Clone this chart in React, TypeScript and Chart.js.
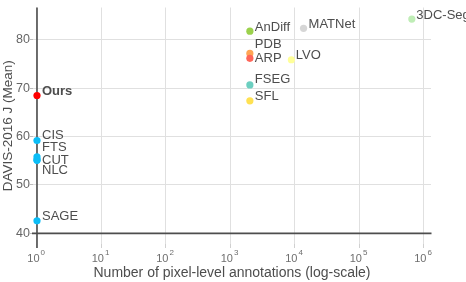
import React, { useEffect, useRef } from "react";
import { Chart, registerables } from "chart.js";

Chart.register(...registerables);

const methods = ["SAGE", "NLC", "CUT", "FTS", "CIS", "Ours", "SFL", "FSEG", "PDB", "ARP", "AnDiff", "LVO", "MATNet", "3DC-Seg"];
const annotations = [1, 1, 1, 1, 1, 1, 2000, 2000, 2000, 2000, 2000, 8800, 13600, 650000];
const jMean = [42.6, 55.1, 55.2, 55.8, 59.2, 68.5, 67.4, 70.7, 77.2, 76.2, 81.8, 75.9, 82.4, 84.3];
const pointColors = ["#0BBDF7", "#0BBDF7", "#0BBDF7", "#0BBDF7", "#0BBDF7", "#FF0000", "#FFE152", "#6CCFC0", "#FFA555", "#FF6659", "#9BD14C", "#FFFF99", "#D6D6D6", "#BFEDB6"];
// label placement offsets (px) relative to each point: [dx, dy]
const labelOffsets: [number, number][] = [[5, -4], [5, 10], [5, 0.5], [5, -10], [5, -5], [5, -4], [5, -4.5], [5, -5], [5, -9], [5, 0], [5, -3.5], [4.5, -4.3], [5, -4], [4.5, -3.5]];
const xTicks = [1, 10, 100, 1000, 10000, 100000, 1000000];
const xExponents = ["0", "1", "2", "3", "4", "5", "6"];
const yTicks = [40, 50, 60, 70, 80];

const FONT = "'Liberation Sans', Arial, Helvetica, sans-serif";
const TEXT = "#4D4D4D";
const AXIS = "#4D4D4D";

export default function App() {
  const ref = useRef<HTMLCanvasElement | null>(null);

  useEffect(() => {
    if (!ref.current) return;

    const overlay = {
      id: "overlay",
      beforeDatasetsDraw(chart: any) {
        const { ctx, chartArea, scales } = chart;
        const x = scales.x, y = scales.y;
        const px = x.getPixelForValue(1);
        const py = y.getPixelForValue(40);
        ctx.save();
        ctx.strokeStyle = AXIS;
        ctx.lineWidth = 1.6;
        ctx.beginPath();
        ctx.moveTo(px, chartArea.top);
        ctx.lineTo(px, chartArea.bottom + 4);
        ctx.moveTo(chartArea.left - 1, py);
        ctx.lineTo(chartArea.right + 0.5, py);
        ctx.stroke();
        ctx.restore();
      },
      afterDatasetsDraw(chart: any) {
        const { ctx, scales, chartArea } = chart;
        const x = scales.x, y = scales.y;
        ctx.save();
        ctx.textBaseline = "middle";
        ctx.textAlign = "left";
        ctx.fillStyle = TEXT;
        methods.forEach((m, i) => {
          const px = x.getPixelForValue(annotations[i]);
          const py = y.getPixelForValue(jMean[i]);
          ctx.font = (m === "Ours" ? "bold " : "") + "13px " + FONT;
          ctx.fillText(m, px + labelOffsets[i][0], py + labelOffsets[i][1]);
        });
        // x tick labels as 10^n
        ctx.fillStyle = "#6E6E6E";
        ctx.textBaseline = "alphabetic";
        xTicks.forEach((v, i) => {
          const px = x.getPixelForValue(v);
          ctx.font = "11px " + FONT;
          ctx.textAlign = "right";
          ctx.fillText("10", px + 2.5, chartArea.bottom + 18);
          ctx.font = "8px " + FONT;
          ctx.textAlign = "left";
          ctx.fillText(xExponents[i], px + 3.5, chartArea.bottom + 11);
        });
        ctx.restore();
      },
    };

    const chart = new Chart(ref.current, {
      type: "scatter",
      data: {
        datasets: [
          {
            data: methods.map((_, i) => ({ x: annotations[i], y: jMean[i] })),
            backgroundColor: pointColors,
            borderWidth: 0,
            pointRadius: 3.6,
            pointHoverRadius: 3.6,
          },
        ],
      },
      options: {
        animation: false,
        responsive: false,
        maintainAspectRatio: false,
        events: [],
        layout: { padding: { top: 0, right: 35, left: 0, bottom: 0 } },
        plugins: { legend: { display: false }, tooltip: { enabled: false } },
        scales: {
          x: {
            type: "logarithmic",
            min: Math.pow(10, -0.062),
            max: Math.pow(10, 6.11),
            afterBuildTicks: (s: any) => {
              s.ticks = xTicks.map((v) => ({ value: v }));
            },
            afterFit: (s: any) => {
              s.height = 38;
            },
            border: { display: false },
            grid: {
              color: "#E0E0E0",
              lineWidth: 1,
              borderDash: [3, 3],
              drawTicks: true,
              tickLength: 4,
              tickColor: "#D0D0D0",
              tickBorderDash: [],
            },
            ticks: { display: false },
            title: {
              display: true,
              text: "Number of pixel-level annotations (log-scale)",
              color: TEXT,
              font: { family: FONT, size: 14 },
              padding: { top: 0, bottom: 0 },
            },
          },
          y: {
            min: 37.8,
            max: 86.7,
            afterBuildTicks: (s: any) => {
              s.ticks = yTicks.map((v) => ({ value: v }));
            },
            afterFit: (s: any) => {
              s.width = 33;
            },
            border: { display: false },
            grid: {
              color: "#E0E0E0",
              lineWidth: 1,
              borderDash: [3, 3],
              drawTicks: true,
              tickLength: 3,
              tickColor: "#BDBDBD",
              tickBorderDash: [],
            },
            ticks: {
              color: "#666666",
              font: { family: FONT, size: 12.5 },
              padding: 0,
            },
            title: {
              display: true,
              text: "DAVIS-2016 J (Mean)",
              color: TEXT,
              font: { family: FONT, size: 13.5 },
              padding: { top: 0, bottom: 0 },
            },
          },
        },
      },
      plugins: [overlay],
    } as any);

    return () => chart.destroy();
  }, []);

  return (
    <div style={{ position: "absolute", left: 0, top: 0, width: 466, height: 282 }}>
      <canvas ref={ref} width={466} height={282} style={{ width: 466, height: 282, display: "block" }} />
    </div>
  );
}
